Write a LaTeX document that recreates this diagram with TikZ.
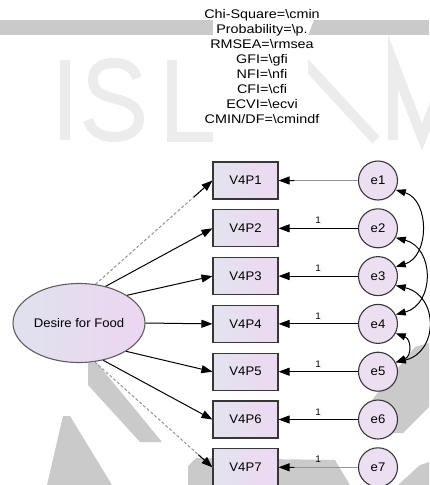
\documentclass[tikz,border=0pt]{standalone}
\usepackage{fontspec}
\setmainfont{Liberation Sans}
\newfontfamily\labfont[FakeStretch=1.05]{Liberation Sans}
\newfontfamily\fitfont[FakeStretch=1.15]{Liberation Sans}
\usetikzlibrary{arrows.meta,shapes.geometric,calc}

\definecolor{wmband}{RGB}{202,202,202}
\definecolor{wmletter}{RGB}{236,236,236}
\definecolor{boxL}{RGB}{227,227,238}
\definecolor{boxR}{RGB}{237,216,242}
\definecolor{latL}{RGB}{224,225,237}
\definecolor{latR}{RGB}{236,214,241}
\definecolor{errfill}{RGB}{236,223,241}
\definecolor{edge}{RGB}{55,55,55}
\definecolor{faint}{RGB}{150,150,150}

\begin{document}
\begin{tikzpicture}[x=1pt,y=-1pt,
  obs/.style={draw=edge, line width=1.1pt, minimum width=65pt, minimum height=37pt,
    inner sep=0pt, left color=boxL, right color=boxR,
    font=\labfont\fontsize{12.5}{14}\selectfont},
  err/.style={circle, draw=edge, line width=1.1pt, minimum size=39pt, inner sep=0pt,
    fill=errfill, font=\labfont\fontsize{12.5}{14}\selectfont},
  lat/.style={ellipse, draw=edge!80, line width=1.1pt, minimum width=132pt,
    minimum height=79pt, inner sep=0pt, left color=latL, right color=latR,
    font=\labfont\fontsize{12.5}{14}\selectfont},
  load/.style={-{Triangle[length=11pt,width=8pt]}, line width=1pt, black},
  dimline/.style={faint, line width=1pt, dash pattern=on 3pt off 2pt},
  cov/.style={{Triangle[length=10pt,width=7pt]}-{Triangle[length=10pt,width=7pt]},
    line width=1pt, black},
  one/.style={font=\labfont\fontsize{9.5}{10}\selectfont, inner sep=0pt},
  wm/.style={line width=10pt, wmletter},
  fitbox/.style={align=center, inner sep=0pt,
    font=\fitfont\fontsize{12.5}{15}\selectfont}
]
\useasboundingbox (0,0) rectangle (429,485);
\fill[white] (0,0) rectangle (429,485);

% watermark: band, letters and lower shapes
\fill[wmband] (0,20) rectangle (429,35);
\draw[wm] (65,60) -- (65,140);
\draw[wm] (137,78) .. controls (133,65) and (122,63) .. (113,63)
  .. controls (99,63) and (92,71) .. (93,82)
  .. controls (94,95) and (109,97) .. (120,100)
  .. controls (133,104) and (139,110) .. (139,119)
  .. controls (139,131) and (127,137) .. (114,137)
  .. controls (100,137) and (91,130) .. (88,120);
\draw[wm, line cap=butt] (172,60) -- (172,137) -- (225,137);
\draw[wm, line join=miter] (250,140) -- (304,62) -- (376,140);
\draw[wm, line join=miter] (393,140) -- (393,62) -- (422,137) -- (451,62) -- (451,140);
\fill[wmband] (63,416) -- (70,416) -- (112,485) -- (47,485) -- cycle;
\fill[wmband] (88,362) -- (97,363) -- (162,442) -- (140,442) -- (88,385) -- cycle;
\fill[wmband] (188,485) -- (188,466) -- (196,458) -- (335,460) -- (350,485) -- cycle;
\fill[wmband] (415,347) -- (429,343) -- (429,407) -- (403,433) -- (390,433) -- (372,400) -- cycle;
\fill[wmband] (398,485) -- (420,465) -- (429,462) -- (429,485) -- cycle;
\fill[white] (213,0) -- (213,142) -- (308,142) -- (308,35) -- (314,20) -- (314,0) -- cycle;

% fit measures
\node[fitbox] (fit) at (262,67) {Chi-Square=\textbackslash cmin\\
  Probability=\textbackslash p.\\
  RMSEA=\textbackslash rmsea\\
  GFI=\textbackslash gfi\\
  NFI=\textbackslash nfi\\
  CFI=\textbackslash cfi\\
  ECVI=\textbackslash ecvi\\
  CMIN/DF=\textbackslash cmindf};

% latent factor, indicators and their errors
\node[lat] (F) at (79,323) {Desire for Food};
\foreach \i in {1,...,7} {
  \pgfmathsetmacro\yy{180.5+47.8*(\i-1)}
  \node[obs] (v\i) at (245.5,\yy) {V4P\i};
  \node[err] (e\i) at (378,\yy) {e\i};
}

% factor loadings
\draw[dimline] (F.67) -- (v1.west);
\draw[load] ($(F.67)!0.84!(v1.west)$) -- (v1.west);
\draw[load] (F.54) -- (v2.west);
\draw[load] (F.30) -- (v3.west);
\draw[load] (F.0) -- (v4.west);
\draw[load] (F.-31) -- (v5.west);
\draw[load] (F.-57) -- (v6.west);
\draw[dimline] (F.-68) -- (v7.west);
\draw[load] ($(F.-68)!0.88!(v7.west)$) -- (v7.west);

% error paths
\draw[faint, line width=1pt] (e1) -- (v1);
\draw[load] ($(e1.west)!0.8!(v1.east)$) -- (v1.east);
\foreach \i in {2,...,6} {
  \draw[load] (e\i) -- (v\i) node[one, midway, above=4pt] {1};
}
\draw[faint, line width=1pt] (e7) -- (v7) node[one, midway, above=4pt, black] {1};
\draw[load] ($(e7.west)!0.8!(v7.east)$) -- (v7.east);

% error covariances
\draw[cov] (e1.-28) .. controls +(34,10) and +(34,-10) .. (e3.28);
\draw[cov] (e2.-28) .. controls +(39,10) and +(39,-10) .. (e4.28);
\draw[cov] (e3.-28) .. controls +(43,10) and +(43,-10) .. (e5.28);
\draw[cov] (e4.-28) .. controls +(16,6) and +(16,-6) .. (e5.28);
\end{tikzpicture}
\end{document}
